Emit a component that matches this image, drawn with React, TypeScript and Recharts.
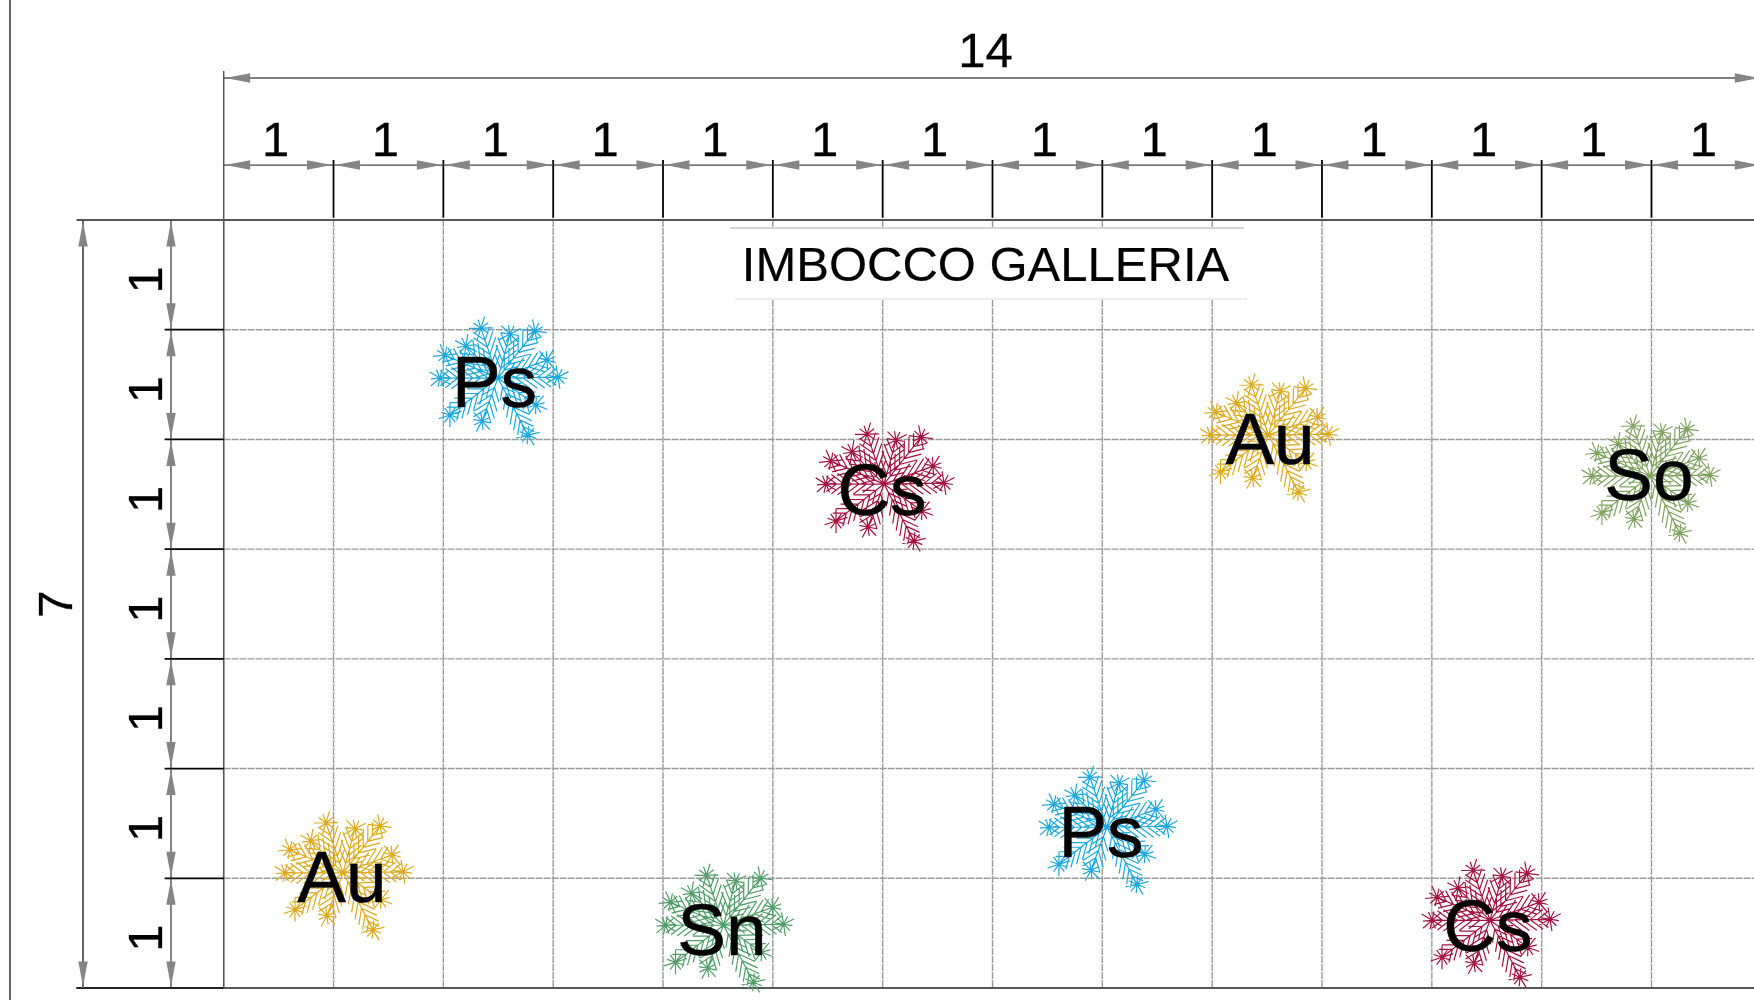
import React from "react";
import { ScatterChart, Scatter, XAxis, YAxis, CartesianGrid, ReferenceLine, ReferenceArea } from "recharts";

const FONT = "'Liberation Sans', Arial, sans-serif";
const columns = [0, 1, 2, 3, 4, 5, 6, 7, 8, 9, 10, 11, 12, 13, 14];
const rows = [0, 1, 2, 3, 4, 5, 6, 7];
const innerColumns = [1, 2, 3, 4, 5, 6, 7, 8, 9, 10, 11, 12, 13];
const innerRows = [1, 2, 3, 4, 5, 6];

const speciesColors: Record<string, string> = {
  Ps: "#1ba8dd",
  Cs: "#a4123f",
  Au: "#dcaa1c",
  So: "#7fa35e",
  Sn: "#4f9e68",
};

const plants = [
  { name: "Ps", x: 2.497, y: 1.441 },
  { name: "Cs", x: 6.012, y: 2.407 },
  { name: "Au", x: 9.513, y: 1.96 },
  { name: "So", x: 12.986, y: 2.334 },
  { name: "Au", x: 1.086, y: 5.95 },
  { name: "Sn", x: 4.551, y: 6.428 },
  { name: "Ps", x: 8.042, y: 5.535 },
  { name: "Cs", x: 11.53, y: 6.383 },
];
const plantLabels = [
  { name: "Ps", x: 2.466, y: 1.705 },
  { name: "Cs", x: 5.994, y: 2.685 },
  { name: "Au", x: 9.527, y: 2.225 },
  { name: "So", x: 12.977, y: 2.553 },
  { name: "Au", x: 1.077, y: 6.219 },
  { name: "Sn", x: 4.537, y: 6.702 },
  { name: "Ps", x: 7.988, y: 5.808 },
  { name: "Cs", x: 11.511, y: 6.665 },
];

const topDimY = -0.501;
const totalDimY = -1.294;
const leftDimX = -0.48;
const totalDimX = -1.281;

// offsets of a flake's branch ends from its centre
const flakeTips = [
  [-17, -50], [12, -44], [37, -47], [49, -18], [60, -1], [38, 27],
  [30, 57], [-16, 43], [-48, 37], [-58, 0], [-53, -23], [-32, -32],
];

function flakePath(): string {
  let d = "";
  const seg = (a: number, b: number, c: number, e: number) => {
    d += `M${a.toFixed(1)} ${b.toFixed(1)}L${c.toFixed(1)} ${e.toFixed(1)}`;
  };
  flakeTips.forEach(([tx, ty], idx) => {
    const L = Math.hypot(tx, ty);
    const ang = Math.atan2(ty, tx);
    seg(0, 0, tx, ty);
    const spacing = 7.5;
    for (let s = 10; s < L - 9; s += spacing) {
      const t = s / L;
      const px = tx * t;
      const py = ty * t;
      const len = 5 + 13 * Math.sin(Math.PI * Math.min(1, t * 0.85 + 0.1));
      [-0.65, 0.65].forEach((o) => {
        seg(px, py, px + Math.cos(ang + o) * len, py + Math.sin(ang + o) * len);
      });
    }
    for (let k = 0; k < 5; k++) {
      const a = ang + (k * Math.PI) / 5 + idx * 0.2;
      const r = 9 + (k % 2) * 3;
      seg(tx - Math.cos(a) * r, ty - Math.sin(a) * r, tx + Math.cos(a) * r, ty + Math.sin(a) * r);
    }
  });
  return d;
}
const FLAKE = flakePath();

const Flake = (p: any) => (
  <path
    d={FLAKE}
    transform={`translate(${p.cx},${p.cy})`}
    fill="none"
    stroke={speciesColors[p.payload.name]}
    strokeWidth={1.2}
  />
);
const PlantLabel = (p: any) => (
  <text x={p.cx} y={p.cy} textAnchor="middle" fontFamily={FONT} fontSize={73} fill="#000" stroke="#000" strokeWidth={0.5}>
    {p.payload.name}
  </text>
);

const arrow = (x: number, y: number, dx: number, dy: number) => {
  const l = 25;
  const w = 4.7;
  return `M${x} ${y}L${x + dx * l - dy * w} ${y + dy * l - dx * w}L${x + dx * l + dy * w} ${y + dy * l + dx * w}Z`;
};

const dimension = (text: string, shift: number, width: number, color: string, lift = 9) => (p: any) => {
  const { x1, y1, x2, y2 } = p;
  const horizontal = Math.abs(y1 - y2) < 1;
  const gap = 1.5;
  const mx = (x1 + x2) / 2;
  const my = (y1 + y2) / 2;
  return (
    <g>
      <line x1={x1} y1={y1} x2={x2} y2={y2} stroke={color} strokeWidth={width} />
      {horizontal ? (
        <path d={arrow(x1 + gap, y1, 1, 0) + arrow(x2 - gap, y2, -1, 0)} fill="#858585" />
      ) : (
        <path d={arrow(x1, y1 + gap, 0, 1) + arrow(x2, y2 - gap, 0, -1)} fill="#858585" />
      )}
      {horizontal ? (
        <text x={mx + shift} y={y1 - lift} textAnchor="middle" fontFamily={FONT} fontSize={49} fill="#000" stroke="#000" strokeWidth={0.3}>
          {text}
        </text>
      ) : (
        <text
          transform={`translate(${x1 - lift},${my + shift}) rotate(-90)`}
          textAnchor="middle"
          fontFamily={FONT}
          fontSize={49}
          fill="#000"
          stroke="#000"
          strokeWidth={0.3}
        >
          {text}
        </text>
      )}
    </g>
  );
};

const TitleBox = (p: any) => {
  const { x, y, width, height } = p;
  return (
    <g>
      <rect x={x} y={y} width={width} height={height} fill="#fff" />
      <line x1={x} y1={y} x2={x + width - 3} y2={y} stroke="#aaa" strokeWidth={1} />
      <line x1={x + 5} y1={y + height} x2={x + width} y2={y + height} stroke="#ddd" strokeWidth={1} />
      <text x={x + width / 2 - 3} y={y + 53} textAnchor="middle" fontFamily={FONT} fontSize={49} fill="#000" stroke="#000" strokeWidth={0.2}>
        IMBOCCO GALLERIA
      </text>
    </g>
  );
};

const seg = (a: [number, number], b: [number, number]) => [
  { x: a[0], y: a[1] },
  { x: b[0], y: b[1] },
];

export default function App() {
  return (
    <div style={{ position: "absolute", left: 0, top: 0, width: 1754, height: 1000, overflow: "hidden", background: "#fff" }}>
      <ScatterChart width={1762} height={1000} margin={{ left: 223.7, top: 220, right: 0.7, bottom: 12 }}>
        <XAxis type="number" dataKey="x" domain={[0, 14]} ticks={columns} hide />
        <YAxis type="number" dataKey="y" domain={[0, 7]} ticks={rows} reversed hide />
        <CartesianGrid stroke="#9b9b9b" strokeWidth={1.4} strokeDasharray="7 1" />
        <ReferenceArea x1={4.61} x2={9.317} y1={0.073} y2={0.72} ifOverflow="visible" shape={TitleBox} />

        <ReferenceLine segment={seg([-1.946, -2.1], [-1.946, 7.2])} ifOverflow="visible" stroke="#666" strokeWidth={2} />
        <ReferenceLine segment={seg([-1.34, 0], [14, 0])} ifOverflow="visible" stroke="#555" strokeWidth={2} />
        <ReferenceLine segment={seg([-1.34, 7], [14, 7])} ifOverflow="visible" stroke="#555" strokeWidth={2} />
        <ReferenceLine segment={seg([-1.34, 7], [0, 7])} ifOverflow="visible" stroke="#222" strokeWidth={2} />
        <ReferenceLine segment={seg([0, -1.358], [0, 7])} ifOverflow="visible" stroke="#555" strokeWidth={1.5} />

        {innerColumns.map((c) => (
          <ReferenceLine key={`vt${c}`} segment={seg([c, -0.547], [c, -0.02])} ifOverflow="visible" stroke="#000" strokeWidth={1.8} />
        ))}
        {innerRows.map((r) => (
          <ReferenceLine key={`ht${r}`} segment={seg([-0.538, r], [0, r])} ifOverflow="visible" stroke="#000" strokeWidth={1.8} />
        ))}

        {columns.slice(0, -1).map((c) => (
          <ReferenceLine
            key={`dx${c}`}
            segment={seg([c, topDimY], [c + 1, topDimY])}
            ifOverflow="visible"
            shape={dimension("1", -3, 1.2, "#444")}
          />
        ))}
        {rows.slice(0, -1).map((r) => (
          <ReferenceLine
            key={`dy${r}`}
            segment={seg([leftDimX, r], [leftDimX, r + 1])}
            ifOverflow="visible"
            shape={dimension("1", 5, 1.2, "#333")}
          />
        ))}
        <ReferenceLine segment={seg([0, totalDimY], [14, totalDimY])} ifOverflow="visible" shape={dimension("14", -7, 1.4, "#555", 11)} />
        <ReferenceLine segment={seg([totalDimX, 0], [totalDimX, 7])} ifOverflow="visible" shape={dimension("7", 0, 2, "#666", 11)} />

        <Scatter data={plants} dataKey="y" shape={Flake} isAnimationActive={false} />
        <Scatter data={plantLabels} dataKey="y" shape={PlantLabel} isAnimationActive={false} />
      </ScatterChart>
    </div>
  );
}
